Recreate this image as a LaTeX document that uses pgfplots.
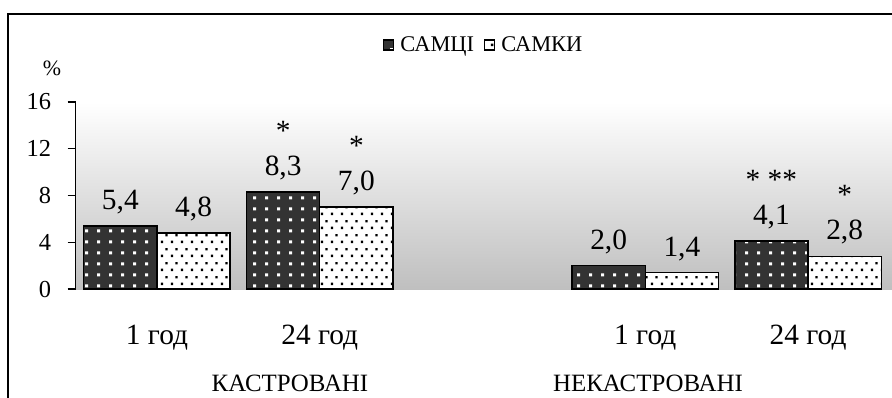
\documentclass[border=0pt]{standalone}
\usepackage{fontspec}
\setmainfont{Liberation Serif}
\usepackage{pgfplots}
\pgfplotsset{compat=1.18}
\usetikzlibrary{patterns.meta,calc}

% sparse square dots for the two bar fills
\tikzdeclarepattern{
  name=whitedots, type=uncolored,
  bottom left={(0bp,0bp)}, top right={(11.7bp,10.7bp)}, tile size={(11.7bp,10.7bp)},
  code={\fill (4.3bp,3.8bp) rectangle ++(3bp,3bp);}
}
\tikzdeclarepattern{
  name=blackdots, type=uncolored,
  bottom left={(0bp,0bp)}, top right={(10bp,14bp)}, tile size={(10bp,14bp)},
  code={\fill (1bp,1bp) rectangle ++(2.5bp,2.5bp);
        \fill (6bp,8bp) rectangle ++(2.5bp,2.5bp);}
}

\pgfplotstableread{
x  y    lab
0  5.4  {5,4}
1  8.3  {*\\8,3}
3  2.0  {2,0}
4  4.1  {* **\\4,1}
}\males
\pgfplotstableread{
x  y    lab
0  4.8  {4,8}
1  7.0  {*\\7,0}
3  1.4  {1,4}
4  2.8  {*\\2,8}
}\females

\begin{document}
\begin{tikzpicture}[x=1bp,y=1bp]
\begin{axis}[
  name=ax,
  scale only axis, width=816.4bp, height=187bp,
  xmin=-0.5, xmax=4.516, ymin=0, ymax=16,
  ybar, bar width=0.45,
  axis background/.style={shade, top color=white, middle color=black!9, bottom color=black!25},
  axis lines*=left,
  x axis line style={draw=none},
  y axis line style={line width=1.5bp},
  ytick={0,4,8,12,16},
  xtick={0,1,3,4},
  xticklabels={1 год,24 год,1 год,24 год},
  tick align=outside, major tick length=8bp,
  xtick style={draw=none},
  ytick style={line width=1.2bp, black},
  yticklabel style={font=\fontsize{24.5}{28}\selectfont, xshift=-13bp},
  xticklabel style={font=\fontsize{29.5}{34}\selectfont, yshift=-25bp},
  /pgf/number format/assume math mode=true,
  nodes near coords, point meta=explicit symbolic,
  every node near coord/.append style={font=\fontsize{29.5}{35}\selectfont,
    align=center, black, yshift=8bp},
  legend style={at={(0.5,1.305)}, anchor=center, draw=none, fill=none,
    legend columns=-1, font=\fontsize{22.5}{26}\selectfont,
    /tikz/every even column/.append style={column sep=8bp}},
  legend image code/.code={\draw[#1, line width=1.2bp] (0bp,-5bp) rectangle (10bp,5bp);},
  clip=false,
]
\addplot[draw=black, line width=1.5bp, fill=black!80,
  postaction={pattern=whitedots, pattern color=white}, bar shift=-0.225]
  table[x=x, y=y, meta=lab] {\males};
\addplot[draw=black, line width=1.5bp, fill=white,
  postaction={pattern=blackdots, pattern color=black}, bar shift=0.225]
  table[x=x, y=y, meta=lab] {\females};
\legend{\hspace{4bp}САМЦІ, \hspace{4bp}САМКИ}
\coordinate (O) at (axis cs:-0.5,0);
\node[font=\fontsize{22}{26}\selectfont] at (rel axis cs:-0.029,1.18) {\%};
\node[font=\fontsize{25}{29}\selectfont] at ([yshift=-94bp]axis cs:0.817,0) {КАСТРОВАНІ};
\node[font=\fontsize{25}{29}\selectfont] at ([yshift=-94bp]axis cs:3.017,0) {НЕКАСТРОВАНІ};
\end{axis}
% outer frame, open to the right and below
\draw[line width=2bp] ($(O)+(-67.6,-130)$) -- ++(0,405) -- ++(920,0);
\pgfresetboundingbox
\path[use as bounding box] ($(O)+(-75.6,-108)$) rectangle ++(892,397);
\end{tikzpicture}
\end{document}
